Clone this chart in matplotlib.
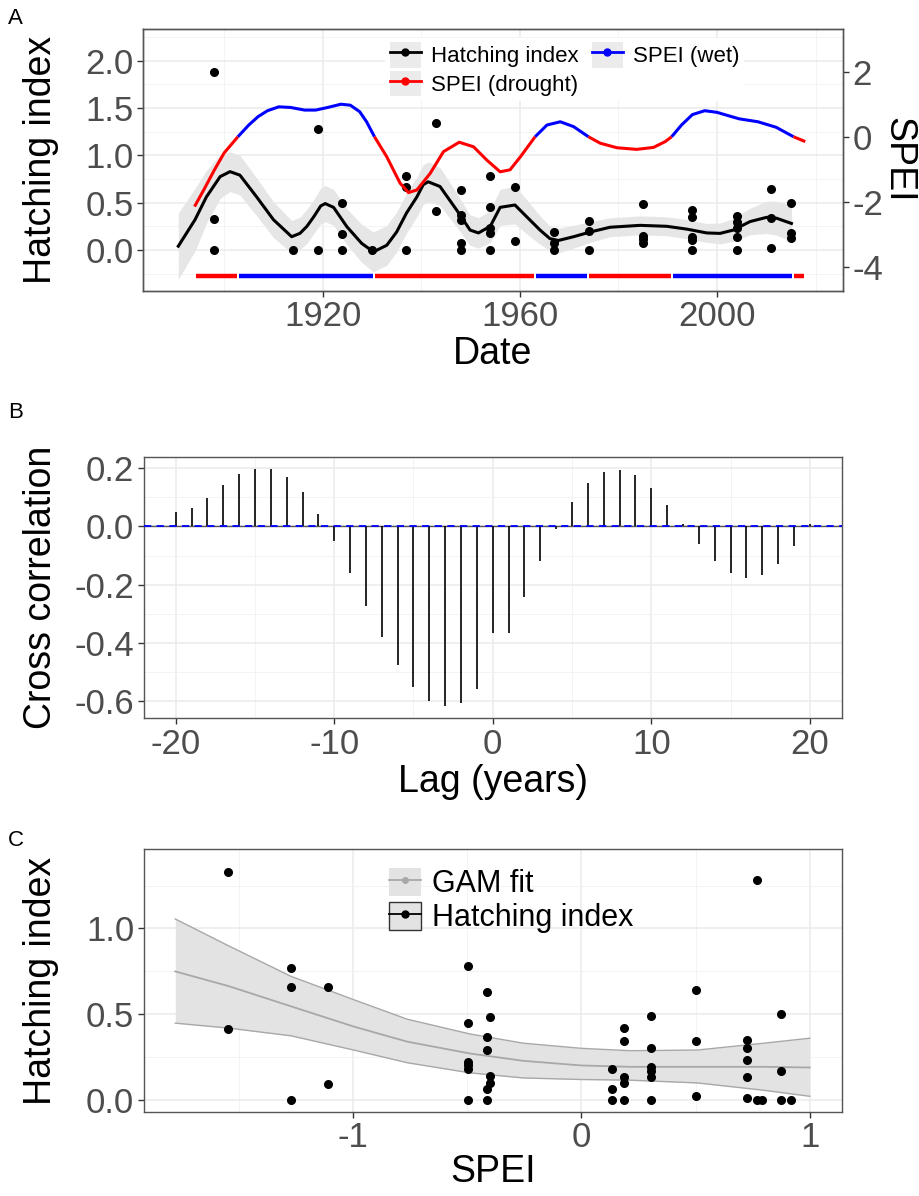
import matplotlib
matplotlib.use('Agg')
import matplotlib.pyplot as plt
from matplotlib.patches import Patch
from matplotlib.lines import Line2D
from matplotlib.legend_handler import HandlerTuple
from matplotlib.ticker import MultipleLocator, FormatStrFormatter

plt.rcParams['font.family'] = ['Liberation Sans', 'DejaVu Sans']
plt.rcParams['axes.unicode_minus'] = False

# ---- Panel A: hatching index per survey (year, value)
hatch_years = [1898, 1898, 1898, 1914, 1919, 1919, 1924, 1924, 1924, 1930,
               1937, 1937, 1937, 1943, 1943, 1948, 1948, 1948, 1948, 1948,
               1954, 1954, 1954, 1954, 1954, 1959, 1959, 1967, 1967, 1967,
               1974, 1974, 1974, 1985, 1985, 1985, 1985, 1995, 1995, 1995,
               1995, 1995, 2004, 2004, 2004, 2004, 2004, 2011, 2011, 2011,
               2015, 2015, 2015]
hatch_values = [1.88, 0.33, 0.0, 0.0, 1.28, 0.0, 0.50, 0.165, 0.0, 0.0,
                0.78, 0.66, 0.0, 1.34, 0.415, 0.634, 0.37, 0.317, 0.07, 0.0,
                0.785, 0.45, 0.23, 0.176, 0.0, 0.669, 0.099, 0.187, 0.07, 0.0,
                0.306, 0.2, 0.0, 0.482, 0.148, 0.113, 0.077, 0.423, 0.352, 0.134,
                0.106, 0.0, 0.36, 0.30, 0.23, 0.134, 0.0, 0.641, 0.342, 0.018,
                0.493, 0.176, 0.123]

# smoothed hatching index with its confidence half-width
smooth_years = [1890.7, 1894.1, 1896.4, 1899.2, 1901.2, 1903.2, 1906.6, 1910.0, 1913.7, 1915.4,
                1916.8, 1918.2, 1919.6, 1920.5, 1922.2, 1924.9, 1927.9, 1930.3, 1933.0, 1935.0,
                1937.0, 1939.1, 1940.4, 1941.4, 1943.8, 1947.2, 1949.9, 1951.6, 1954.0, 1956.0,
                1959.0, 1961.4, 1964.1, 1966.1, 1967.8, 1970.9, 1974.3, 1978.3, 1984.4, 1989.8,
                1993.9, 1997.9, 2000.6, 2003.3, 2006.7, 2010.1, 2012.1, 2015.1]
smooth_values = [0.04, 0.32, 0.56, 0.775, 0.827, 0.79, 0.56, 0.32, 0.14, 0.176,
                 0.25, 0.352, 0.465, 0.49, 0.45, 0.246, 0.07, -0.02, 0.05, 0.19,
                 0.39, 0.56, 0.69, 0.72, 0.67, 0.42, 0.21, 0.18, 0.25, 0.45,
                 0.475, 0.35, 0.21, 0.12, 0.10, 0.14, 0.19, 0.24, 0.26, 0.25,
                 0.22, 0.18, 0.175, 0.21, 0.30, 0.345, 0.335, 0.28]
smooth_se = [0.35, 0.33, 0.28, 0.23, 0.21, 0.21, 0.2, 0.19, 0.17, 0.17,
             0.18, 0.18, 0.19, 0.19, 0.19, 0.19, 0.2, 0.21, 0.21, 0.21,
             0.21, 0.21, 0.21, 0.21, 0.2, 0.18, 0.16, 0.16, 0.17, 0.19,
             0.2, 0.18, 0.15, 0.13, 0.13, 0.12, 0.11, 0.1, 0.1, 0.1,
             0.1, 0.1, 0.11, 0.12, 0.14, 0.17, 0.18, 0.19]

# smoothed SPEI (right axis)
spei_years = [1894, 1896, 1898, 1900, 1902.8, 1905, 1906.9, 1908.8, 1911.1, 1913.5,
              1916.3, 1918.6, 1921, 1923.7, 1925.6, 1927.5, 1928.9, 1930.5, 1933, 1935.7,
              1937.4, 1939.1, 1941.8, 1944.5, 1947.7, 1950.6, 1953.3, 1956, 1958, 1960.1,
              1963.1, 1965.5, 1968.2, 1970.9, 1973.9, 1976.3, 1979.7, 1983.7, 1987.1, 1989.5,
              1990.8, 1992.8, 1995, 1997.5, 2000, 2002, 2004.5, 2008.3, 2012, 2015.5,
              2017.9]
spei_values = [-2.15, -1.6, -1.03, -0.5, 0.0, 0.36, 0.62, 0.80, 0.92, 0.90,
               0.82, 0.82, 0.90, 1.0, 0.97, 0.77, 0.46, 0.0, -0.62, -1.43,
               -1.72, -1.64, -1.13, -0.46, -0.17, -0.31, -0.72, -1.08, -1.02, -0.62,
               0.0, 0.36, 0.46, 0.31, 0.0, -0.20, -0.34, -0.39, -0.33, -0.15,
               0.0, 0.36, 0.68, 0.80, 0.75, 0.66, 0.55, 0.46, 0.29, 0.0,
               -0.15]

# ---- Panel B: cross correlation by lag
lags = list(range(-20, 21))
ccf = [0.051, 0.064, 0.097, 0.142, 0.179, 0.198, 0.198, 0.170, 0.118, 0.043,
       -0.051, -0.159, -0.272, -0.381, -0.477, -0.552, -0.599, -0.617, -0.606, -0.56,
       -0.368, -0.368, -0.241, -0.119, -0.009, 0.083, 0.149, 0.186, 0.193, 0.177,
       0.134, 0.075, 0.008, -0.059, -0.119, -0.161, -0.177, -0.168, -0.130, -0.067,
       0.010]

# ---- Panel C: hatching index vs SPEI with GAM fit
c_spei = [-1.545, -1.545, -1.27, -1.27, -1.27, -1.11, -1.11,
          -0.494, -0.494, -0.494, -0.494, -0.494, -0.494,
          -0.414, -0.414, -0.414, -0.414, -0.414,
          -0.40, -0.40, -0.40,
          0.133, 0.133, 0.133,
          0.186, 0.186, 0.186, 0.186, 0.186,
          0.307, 0.307, 0.307, 0.307, 0.307, 0.307,
          0.502, 0.502, 0.502,
          0.725, 0.725, 0.725, 0.725, 0.725,
          0.77, 0.77, 0.79,
          0.875, 0.875, 0.875,
          0.92]
c_hatch = [1.33, 0.41, 0.77, 0.66, 0.0, 0.66, 0.09,
           0.78, 0.45, 0.22, 0.20, 0.18, 0.0,
           0.63, 0.365, 0.29, 0.065, 0.0,
           0.48, 0.14, 0.10,
           0.18, 0.06, 0.0,
           0.42, 0.34, 0.13, 0.10, 0.0,
           0.49, 0.30, 0.19, 0.17, 0.13, 0.0,
           0.64, 0.34, 0.02,
           0.35, 0.30, 0.23, 0.13, 0.01,
           1.28, 0.0, 0.0,
           0.50, 0.165, 0.0,
           0.0]
gam_x = [-1.777, -1.543, -1.27, -0.996, -0.762, -0.488, -0.254, 0.0, 0.215, 0.508, 0.80, 1.0]
gam_fit = [0.749, 0.663, 0.545, 0.427, 0.339, 0.27, 0.227, 0.20, 0.192, 0.192, 0.192, 0.188]
gam_upper = [1.055, 0.898, 0.72, 0.584, 0.47, 0.384, 0.33, 0.30, 0.286, 0.29, 0.33, 0.359]
gam_lower = [0.447, 0.418, 0.373, 0.29, 0.216, 0.157, 0.127, 0.118, 0.114, 0.098, 0.055, 0.02]

TICK = 25
TITLE = 27
W, H = 919, 1196


def style_axes(ax):
    ax.set_facecolor('white')
    ax.grid(which='major', color='#EBEBEB', lw=1.1, zorder=0)
    ax.grid(which='minor', color='#F3F3F3', lw=0.7, zorder=0)
    ax.set_axisbelow(True)
    for s in ax.spines.values():
        s.set_color('#555555')
        s.set_linewidth(1.0)
    ax.tick_params(which='major', length=4, width=1, color='#333333',
                   labelsize=TICK, labelcolor='#4D4D4D')
    ax.tick_params(axis='x', pad=3)
    ax.tick_params(axis='y', pad=3)
    ax.tick_params(which='minor', length=0)


fig = plt.figure(figsize=(W / 100, H / 100), dpi=100)
axA = fig.add_axes([143.3 / W, 1 - 290.7 / H, 699.4 / W, 261.4 / H])
axB = fig.add_axes([144 / W, 1 - 718 / H, 697.5 / W, 261.3 / H])
axC = fig.add_axes([144 / W, 1 - 1111.7 / H, 697.5 / W, 262.4 / H])

overlay = {tuple: HandlerTuple(ndivide=1, pad=0)}

# ---------------- Panel A
style_axes(axA)
lo = [v - s for v, s in zip(smooth_values, smooth_se)]
hi = [v + s for v, s in zip(smooth_values, smooth_se)]
axA.fill_between(smooth_years, lo, hi, color='#E6E6E6', lw=0, zorder=1)
axA.plot(smooth_years, smooth_values, color='black', lw=2.2, zorder=3,
         solid_joinstyle='round')
axA.plot(hatch_years, hatch_values, 'o', color='black', ms=5.5, zorder=4)

# colour runs of the SPEI curve by sign
runs = []
for i in range(len(spei_years) - 1):
    col = 'blue' if (spei_values[i] + spei_values[i + 1]) / 2 > 0 else 'red'
    if runs and runs[-1][0] == col:
        runs[-1][2] = i + 1
    else:
        runs.append([col, i, i + 1])

axA.set_xlim(1883.6, 2025.5)
axA.set_ylim(-0.43, 2.33)
axS = axA.twinx()
axS.set_ylim(-4.74, 3.306)
for col, a, b in runs:
    axS.plot(spei_years[a:b + 1], spei_values[a:b + 1], color=col, lw=2.2,
             solid_capstyle='butt', solid_joinstyle='round', zorder=3)
    axA.hlines(-0.275, spei_years[a] + 0.2, spei_years[b] - 0.2, color=col,
               lw=3.2, zorder=3)

axA.set_xticks([1920, 1960, 2000])
axA.xaxis.set_minor_locator(MultipleLocator(20))
axA.yaxis.set_major_locator(MultipleLocator(0.5))
axA.yaxis.set_minor_locator(MultipleLocator(0.25))
axA.yaxis.set_major_formatter(FormatStrFormatter('%.1f'))
axA.set_xlabel('Date', fontsize=TITLE, labelpad=2)
axA.set_ylabel('Hatching index', fontsize=TITLE)
axA.yaxis.set_label_coords((59 - 143.3) / 699.4, 0.5)

for s in axS.spines.values():
    s.set_color('#555555')
    s.set_linewidth(1.0)
axS.set_yticks([-4, -2, 0, 2])
axS.tick_params(length=4, width=1, color='#333333', labelsize=TICK,
                labelcolor='#4D4D4D', pad=3)
axS.set_ylabel('SPEI', fontsize=TITLE, rotation=270, va='bottom')
axS.yaxis.set_label_coords((880 - 143.3) / 699.4, 0.5)

grey_key = Patch(facecolor='#EBEBEB', edgecolor='none')
handles = [(grey_key, Line2D([], [], color='black', lw=2, marker='o', ms=5)),
           (grey_key, Line2D([], [], color='red', lw=2, marker='o', ms=5)),
           (grey_key, Line2D([], [], color='blue', lw=2, marker='o', ms=5))]
axS.legend(handles, ['Hatching index', 'SPEI (drought)', 'SPEI (wet)'], ncol=2,
           loc='upper left', bbox_to_anchor=(0.33, 1.01), fontsize=16,
           handlelength=1.4, handleheight=1.4, handletextpad=0.45,
           columnspacing=0.6, labelspacing=0.12, borderpad=0.2, numpoints=1,
           frameon=True, facecolor='white', edgecolor='none', framealpha=1,
           handler_map=overlay)

# ---------------- Panel B
style_axes(axB)
axB.vlines(lags, 0, ccf, color='black', lw=1.2, zorder=3)
axB.axhline(0, color='#555555', lw=1.0, zorder=2)
axB.axhline(0, color='blue', lw=1.3, ls=(0, (4, 3)), zorder=4)
axB.set_xlim(-22, 22)
axB.set_ylim(-0.659, 0.24)
axB.xaxis.set_major_locator(MultipleLocator(10))
axB.xaxis.set_minor_locator(MultipleLocator(5))
axB.yaxis.set_major_locator(MultipleLocator(0.2))
axB.yaxis.set_minor_locator(MultipleLocator(0.1))
axB.yaxis.set_major_formatter(FormatStrFormatter('%.1f'))
axB.set_xlabel('Lag (years)', fontsize=TITLE, labelpad=2)
axB.set_ylabel('Cross correlation', fontsize=TITLE)
axB.yaxis.set_label_coords((59 - 144) / 697.5, 0.5)

# ---------------- Panel C
style_axes(axC)
axC.fill_between(gam_x, gam_lower, gam_upper, color='#E3E3E3', lw=0, zorder=1)
axC.plot(gam_x, gam_upper, color='#A8A8A8', lw=1.0, zorder=2)
axC.plot(gam_x, gam_lower, color='#A8A8A8', lw=1.0, zorder=2)
axC.plot(gam_x, gam_fit, color='#A8A8A8', lw=1.3, zorder=2)
axC.plot(c_spei, c_hatch, 'o', color='black', ms=5.5, zorder=4)
axC.set_xlim(-1.914, 1.139)
axC.set_ylim(-0.07, 1.462)
axC.xaxis.set_major_locator(MultipleLocator(1))
axC.xaxis.set_minor_locator(MultipleLocator(0.5))
axC.yaxis.set_major_locator(MultipleLocator(0.5))
axC.yaxis.set_minor_locator(MultipleLocator(0.25))
axC.yaxis.set_major_formatter(FormatStrFormatter('%.1f'))
axC.set_xlabel('SPEI', fontsize=TITLE, labelpad=0)
axC.set_ylabel('Hatching index', fontsize=TITLE)
axC.yaxis.set_label_coords((59 - 144) / 697.5, 0.5)

c_handles = [(Patch(facecolor='#E3E3E3', edgecolor='none'),
              Line2D([], [], color='#A8A8A8', lw=1.3, marker='o', ms=4)),
             (Patch(facecolor='#E3E3E3', edgecolor='#333333', lw=1.0),
              Line2D([], [], color='black', lw=1.3, marker='o', ms=5))]
axC.legend(c_handles, ['GAM fit', 'Hatching index'], loc='upper left',
           bbox_to_anchor=(0.325, 1.0), fontsize=22, handlelength=1.05,
           handleheight=1.05, handletextpad=0.35, labelspacing=0.08,
           borderpad=0.1, numpoints=1, frameon=False, handler_map=overlay)

for lab, y in [('A', 18), ('B', 413), ('C', 840)]:
    fig.text(8 / W, 1 - y / H, lab, fontsize=16, ha='left', va='center')

fig.savefig('out.png', dpi=100)
